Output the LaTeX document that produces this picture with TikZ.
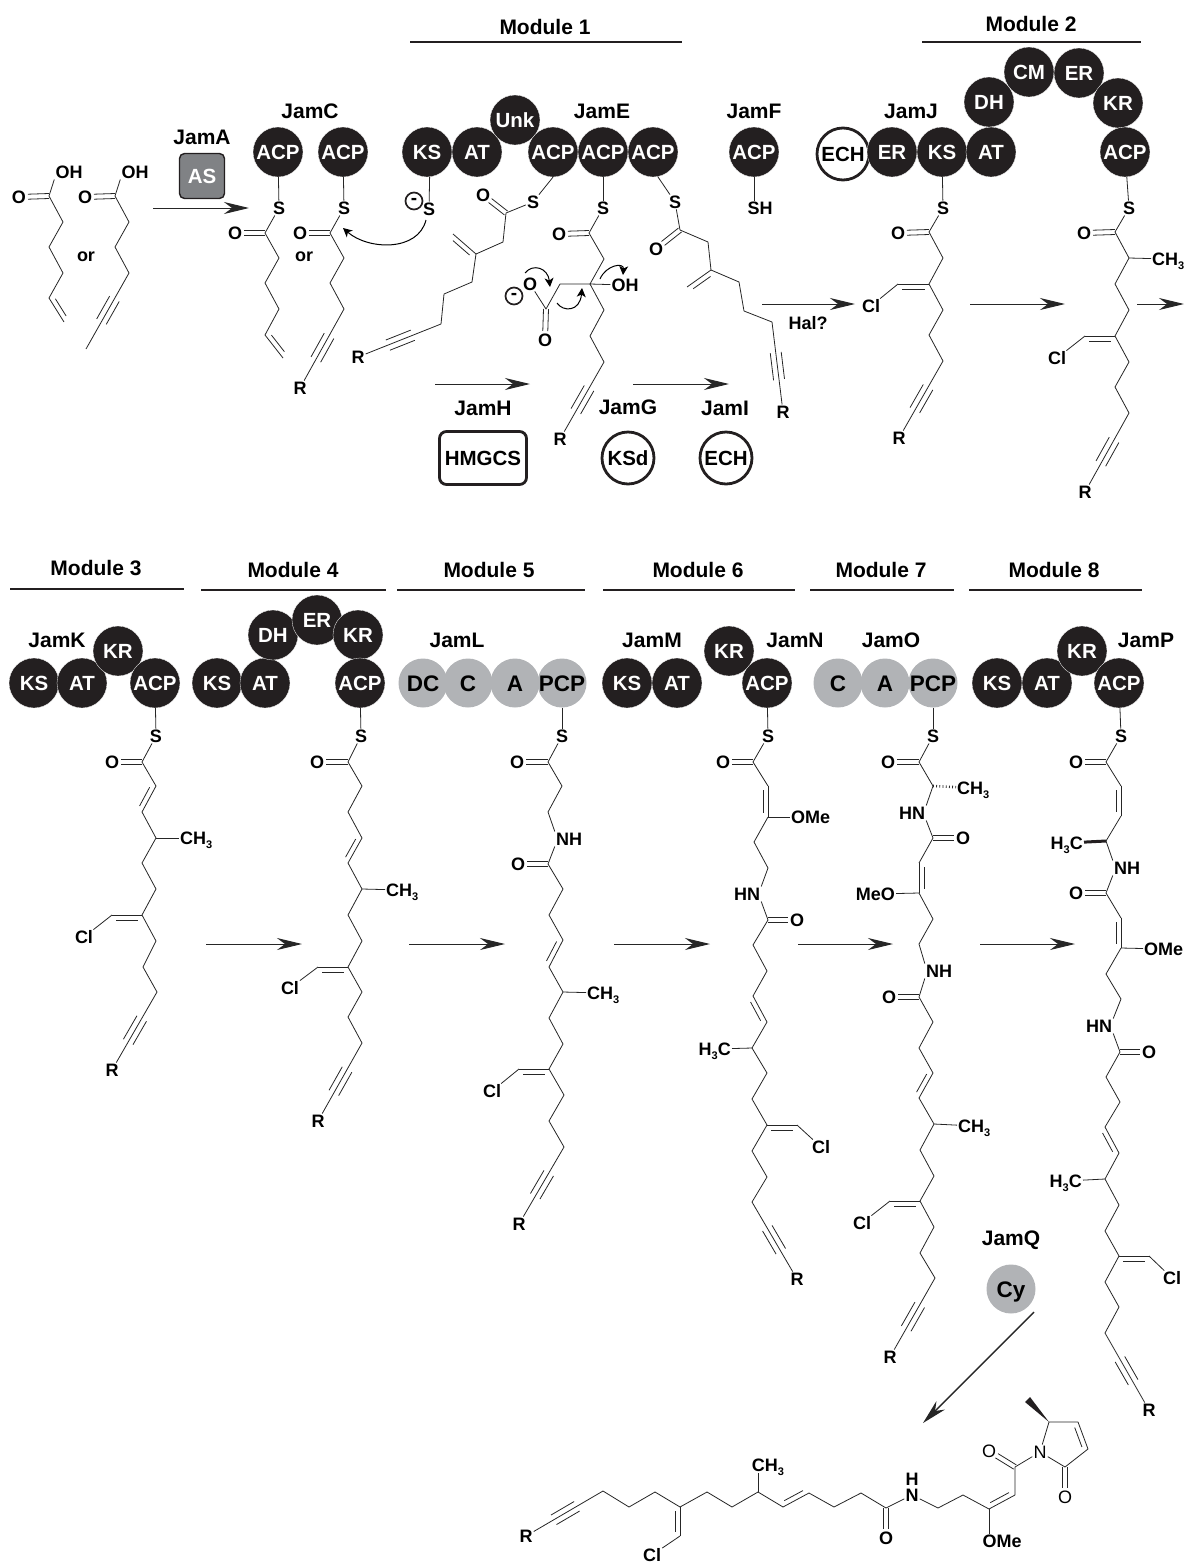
\documentclass[tikz,border=0pt]{standalone}
\usepackage{fontspec}
\setmainfont{Liberation Sans}
\usepackage{xcolor}
\usepackage{tikz}
\usetikzlibrary{arrows.meta,calc}
\definecolor{domdark}{HTML}{231F20}
\definecolor{domgray}{HTML}{B1B3B6}
\definecolor{domas}{HTML}{808285}
\newcommand{\atomfont}{\fontsize{18}{18}\selectfont\bfseries}
\newcommand{\three}{\raisebox{-4pt}{\fontsize{11}{11}\selectfont 3}}
\newcommand{\dbond}[3][5]{\draw[bond] #2 -- #3;
  \draw[bond] ($#2!.14!#3!#1pt!90:#3$) -- ($#3!.14!#2!#1pt!-90:#2$);}
\newcommand{\sdbond}[2]{\draw[bond,shorten >=9pt] ($#1!2.5pt!90:#2$) -- ($#2!2.5pt!-90:#1$);
  \draw[bond,shorten >=9pt] ($#1!2.5pt!-90:#2$) -- ($#2!2.5pt!90:#1$);}
\newcommand{\tbond}[2]{\draw[bond] #1 -- #2;
  \draw[bond] ($#1!.34!#2!5.5pt!90:#2$) -- ($#1!.64!#2!5.5pt!90:#2$);
  \draw[bond] ($#1!.34!#2!5.5pt!-90:#2$) -- ($#1!.64!#2!5.5pt!-90:#2$);}
\tikzset{
  bond/.style={line width=.8pt, draw=black!85, line join=round},
  atom/.style={font=\atomfont, inner sep=1pt, text height=12.5pt, text depth=0pt},
  thinatom/.style={atom, font=\fontsize{18}{18}\selectfont},
  lab/.style={font=\fontsize{21}{21}\selectfont\bfseries, inner sep=1pt},
  bar/.style={line width=1.8pt, draw=domdark},
  rxn/.style={-{Stealth[length=25pt,width=12pt,inset=8pt]}, line width=1pt, draw=black!85},
  curl/.style={-{Stealth[length=9pt,width=9pt,inset=2.5pt]}, line width=1pt},
  dom/.style={circle, inner sep=0pt, minimum size=50pt, text height=14.5pt, text depth=0pt,
              font=\fontsize{20.5}{20.5}\selectfont\bfseries},
  pks/.style={dom, fill=domdark, draw=white, line width=.3pt, text=white},
  nrps/.style={dom, fill=domgray, minimum size=49pt, text height=16pt,
               font=\fontsize{22.5}{22.5}\selectfont\bfseries},
  aux/.style={dom, draw=domdark, fill=white, line width=2.8pt, minimum size=52pt},
  charge/.style={circle, draw=domdark, line width=1.7pt, inner sep=0pt, minimum size=17pt,
                 font=\fontsize{19}{19}\selectfont\bfseries},
}
\begin{document}
\begin{tikzpicture}[x=1pt,y=-1pt]
  \useasboundingbox (0,0) rectangle (1184,1564);
  % module headers
  \node[lab] (m1) at (545,27) {Module 1};
  \node[lab] (m2) at (1031,24) {Module 2};
  \node[lab] (m3) at (96,568) {Module 3};
  \node[lab] (m4) at (293,570) {Module 4};
  \node[lab] (m5) at (489,570) {Module 5};
  \node[lab] (m6) at (698,570) {Module 6};
  \node[lab] (m7) at (881,570) {Module 7};
  \node[lab] (m8) at (1054,570) {Module 8};
  \draw[bar] (410,42) -- (682,42);
  \draw[bar] (922,42) -- (1141,42);
  \draw[bar] (10,589) -- (184,589);
  \draw[bar] (201,590) -- (386,590);
  \draw[bar] (397,590) -- (585,590);
  \draw[bar] (603,590) -- (795,590);
  \draw[bar] (810,590) -- (954,590);
  \draw[bar] (969,590) -- (1142,590);

  % enzyme names
  \node[lab] (jama) at (202,137) {JamA};
  \node[lab] (jamc) at (310,111) {JamC};
  \node[lab] (jame) at (602,111) {JamE};
  \node[lab] (jamf) at (754,111) {JamF};
  \node[lab] (jamj) at (911,111) {JamJ};
  \node[lab] (jamh) at (483,408) {JamH};
  \node[lab] (jamg) at (628,407) {JamG};
  \node[lab] (jami) at (725,408) {JamI};
  \node[lab] (jamk) at (57,640) {JamK};
  \node[lab] (jaml) at (457,640) {JamL};
  \node[lab] (jamm) at (652,640) {JamM};
  \node[lab] (jamn) at (795,640) {JamN};
  \node[lab] (jamo) at (891,640) {JamO};
  \node[lab] (jamp) at (1146,640) {JamP};
  \node[lab] (jamq) at (1011,1240) {JamQ};

  % domains
  \node[draw=domdark, line width=1.4pt, fill=domas, rounded corners=5pt, minimum size=45pt,
        inner sep=0pt, text=white, font=\fontsize{20.5}{20.5}\selectfont\bfseries] (as) at (202,176) {AS};
  \node[pks] (acpc1) at (278,152) {ACP};
  \node[pks] (acpc2) at (343,152) {ACP};
  \node[pks] (kse) at (427,152) {KS};
  \node[pks] (ate) at (477,152) {AT};
  \node[pks] (unk) at (515,120) {Unk};
  \node[pks] (acpe1) at (553,152) {ACP};
  \node[pks] (acpe2) at (603,152) {ACP};
  \node[pks] (acpe3) at (653,152) {ACP};
  \node[pks] (acpf) at (754,152) {ACP};
  \node[aux] (echj) at (843,154) {ECH};
  \node[pks] (erj) at (892,152) {ER};
  \node[pks] (ksj) at (942,152) {KS};
  \node[pks] (atj) at (991,152) {AT};
  \node[pks] (dhj) at (989,102) {DH};
  \node[pks] (cmj) at (1029,72) {CM};
  \node[pks] (erj2) at (1079,73) {ER};
  \node[pks] (krj) at (1118,103) {KR};
  \node[pks] (acpj) at (1125,152) {ACP};
  \node[draw=domdark, line width=2.8pt, rounded corners=7pt, minimum width=87pt, minimum height=53pt,
        inner sep=0pt, font=\fontsize{20.5}{20.5}\selectfont\bfseries] (hmgcs) at (483,458) {HMGCS};
  \node[aux] (ksd) at (628,458) {KSd};
  \node[aux] (echi) at (726,458) {ECH};
  \node[pks] (ksk) at (34,683) {KS};
  \node[pks] (atk) at (82,683) {AT};
  \node[pks] (krk) at (118,651) {KR};
  \node[pks] (acpk) at (155,683) {ACP};
  \node[pks] (ksk2) at (217,683) {KS};
  \node[pks] (atk2) at (265,683) {AT};
  \node[pks] (dhk2) at (273,635) {DH};
  \node[pks] (erk2) at (317,620) {ER};
  \node[pks] (krk2) at (358,635) {KR};
  \node[pks] (acpk2) at (360,683) {ACP};
  \node[nrps] (dcl) at (423,683) {DC};
  \node[nrps] (cl) at (468,683) {C};
  \node[nrps] (al) at (515,683) {A};
  \node[nrps] (pcpl) at (562,683) {PCP};
  \node[pks] (ksm) at (627,683) {KS};
  \node[pks] (atm) at (677,683) {AT};
  \node[pks] (krn) at (729,651) {KR};
  \node[pks] (acpn) at (767,683) {ACP};
  \node[nrps] (co) at (838,683) {C};
  \node[nrps] (ao) at (885,683) {A};
  \node[nrps] (pcpo) at (933,683) {PCP};
  \node[pks] (ksp) at (997,683) {KS};
  \node[pks] (atp) at (1047,683) {AT};
  \node[pks] (krp) at (1082,651) {KR};
  \node[pks] (acpp) at (1119,683) {ACP};
  \node[nrps] (cy) at (1011,1289) {Cy};

  % reaction arrows
  \coordinate (ra1) at (153,208); \coordinate (rb1) at (249,208);
  \coordinate (ra2) at (435,384); \coordinate (rb2) at (530,384);
  \coordinate (ra3) at (633,384); \coordinate (rb3) at (729,384);
  \coordinate (ra4) at (762,304); \coordinate (rb4) at (855,304);
  \coordinate (ra5) at (970,304); \coordinate (rb5) at (1065,304);
  \coordinate (ra6) at (1137,304); \coordinate (rb6) at (1184,304);
  \coordinate (ra7) at (206,944); \coordinate (rb7) at (302,944);
  \coordinate (ra8) at (409,944); \coordinate (rb8) at (505,944);
  \coordinate (ra9) at (614,944); \coordinate (rb9) at (710,944);
  \coordinate (ra10) at (798,944); \coordinate (rb10) at (893,944);
  \coordinate (ra11) at (980,944); \coordinate (rb11) at (1075,944);
  \coordinate (ra12) at (1034,1312); \coordinate (rb12) at (923,1423);
  \draw[rxn] (ra1) -- (rb1);
  \draw[rxn] (ra2) -- (rb2);
  \draw[rxn] (ra3) -- (rb3);
  \draw[rxn] (ra4) -- (rb4);
  \draw[rxn] (ra5) -- (rb5);
  \draw[rxn] (ra6) -- (rb6);
  \draw[rxn] (ra7) -- (rb7);
  \draw[rxn] (ra8) -- (rb8);
  \draw[rxn] (ra9) -- (rb9);
  \draw[rxn] (ra10) -- (rb10);
  \draw[rxn] (ra11) -- (rb11);
  \draw[rxn,line width=1.4pt] (ra12) -- (rb12);
  \node[atom] (hal) at (808,323) {Hal?};

  % starting acids
  \node[atom] (oa1) at (19,197) {O};
  \node[atom] (oha1) at (69,172) {OH};
  \node[atom] (oa2) at (85,197) {O};
  \node[atom] (oha2) at (135,172) {OH};
  \node[atom] (ora) at (86,255) {or};
  \sdbond{(49,196)}{(oa1)}
  \sdbond{(115,196)}{(oa2)}
  \draw[bond] (oha1.south west) -- (49,196) -- (63,222) -- (49,247) -- (63,273) -- (49,298);
  \dbond{(49,298)}{(64,322)}
  \draw[bond] (oha2.south west) -- (115,196) -- (129,222) -- (115,247) -- (129,273);
  \coordinate (cha2) at (86,349);
  \tbond{(129,273)}{(cha2)}

  % JamC
  \node[atom] (sc1) at (279,208) {S};
  \node[atom] (oc1) at (235,233) {O};
  \node[atom] (sc2) at (344,208) {S};
  \node[atom] (oc2) at (300,233) {O};
  \node[atom] (orc) at (304,255) {or};
  \node[atom] (rc2) at (300,388) {R};
  \draw[bond] (acpc1) -- (sc1);
  \draw[bond] (acpc2) -- (sc2);
  \sdbond{(265,233)}{(oc1)}
  \sdbond{(330,233)}{(oc2)}
  \draw[bond] (sc1) -- (265,233) -- (279,258) -- (265,283) -- (279,309) -- (265,335);
  \dbond{(265,335)}{(283,358)}
  \draw[bond] (sc2) -- (330,233) -- (344,258) -- (330,283) -- (344,309);
  \tbond{(344,309)}{(rc2)}

  % JamE
  \node[atom] (se0) at (429,209) {S};
  \node[charge] (neg1) at (414,201) {-};
  \coordinate (cura) at (426,220); \coordinate (curb) at (343,228);
  \draw[curl] (cura) .. controls (418,252) and (368,250) .. (curb);
  \draw[bond] (kse.-84) -- (se0);
  \node[atom] (se1) at (533,202) {S};
  \node[atom] (oe1) at (483,195) {O};
  \node[atom] (re1) at (358,357) {R};
  \draw[bond] (acpe1.-90) -- (se1);
  \sdbond{(506,213)}{(oe1)}
  \draw[bond] (se1) -- (506,213) -- (503,242) -- (476,254) -- (472,282) -- (444,294) -- (441,324);
  \dbond{(476,254)}{(453,234)}
  \tbond{(441,324)}{(re1)}
  \node[atom] (se2) at (603,208) {S};
  \node[atom] (oe2) at (559,234) {O};
  \node[atom] (ohe2) at (625,285) {OH};
  \node[atom] (oe3) at (530,284) {O};
  \node[charge] (neg2) at (514,296) {-};
  \node[atom] (oe4) at (545,340) {O};
  \node[atom] (re2) at (560,439) {R};
  \draw[bond] (acpe2) -- (se2);
  \sdbond{(589,233)}{(oe2)}
  \draw[bond] (se2) -- (589,233) -- (604,259) -- (590,284) -- (ohe2);
  \draw[bond] (oe3) -- (546,309) -- (560,284) -- (590,284) -- (604,310) -- (590,336) -- (604,362);
  \sdbond{(546,309)}{(oe4)}
  \tbond{(604,362)}{(re2)}
  \coordinate (cua) at (525,273); \coordinate (cub) at (550,287);
  \coordinate (cuc) at (557,303); \coordinate (cud) at (582,288);
  \coordinate (cue) at (600,279); \coordinate (cuf) at (623,275);
  \draw[curl] (cua) .. controls (533,263) and (548,268) .. (cub);
  \draw[curl] (cuc) .. controls (563,312) and (580,312) .. (cud);
  \draw[curl] (cue) .. controls (606,265) and (624,262) .. (cuf);
  \node[atom] (se3) at (675,202) {S};
  \node[atom] (oe5) at (656,249) {O};
  \node[atom] (re3) at (783,412) {R};
  \draw[bond] (acpe3.-79) -- (se3);
  \sdbond{(680,230)}{(oe5)}
  \draw[bond] (se3) -- (680,230) -- (708,242) -- (711,270) -- (739,282) -- (744,311) -- (772,322);
  \dbond{(711,270)}{(687,287)}
  \tbond{(772,322)}{(re3)}

  % JamF
  \node[atom] (shf) at (760,208) {SH};
  \draw[bond] (acpf.-90) -- (acpf.-90 |- shf.north);

  % JamJ
  \node[atom] (sj) at (943,208) {S};
  \node[atom] (oj) at (898,233) {O};
  \node[atom] (clj) at (871,306) {Cl};
  \node[atom] (rj) at (899,438) {R};
  \draw[bond] (ksj) -- (sj);
  \sdbond{(929,232)}{(oj)}
  \draw[bond] (sj) -- (929,232) -- (943,258) -- (929,284) -- (943,310) -- (929,335) -- (943,361);
  \dbond{(929,284)}{(898,284)}
  \draw[bond] (898,284) -- (clj);
  \tbond{(943,361)}{(rj)}
  \node[atom] (sj2) at (1129,208) {S};
  \node[atom] (oj2) at (1084,233) {O};
  \node[atom,anchor=west] (chj) at (1151,259) {CH\three};
  \node[atom] (clj2) at (1057,358) {Cl};
  \node[atom] (rj2) at (1085,492) {R};
  \draw[bond] (acpj) -- (sj2);
  \sdbond{(1115,232)}{(oj2)}
  \draw[bond] (sj2) -- (1115,232) -- (1129,258) -- (1115,284) -- (1129,310) -- (1115,336) -- (1129,362) -- (1115,387) -- (1129,413);
  \draw[bond] (1129,258) -- (chj);
  \dbond{(1115,336)}{(1085,336)}
  \draw[bond] (1085,336) -- (clj2);
  \tbond{(1129,413)}{(rj2)}

  % JamK
  \node[atom] (sk) at (156,736) {S};
  \node[atom] (ok) at (112,762) {O};
  \node[atom,anchor=west] (chk) at (179,838) {CH\three};
  \node[atom] (clk) at (84,937) {Cl};
  \node[atom] (rk) at (112,1070) {R};
  \draw[bond] (acpk) -- (sk);
  \sdbond{(142,762)}{(ok)}
  \draw[bond] (sk) -- (142,762) -- (156,786);
  \dbond[-5]{(156,786)}{(142,812)}
  \draw[bond] (142,812) -- (156,838) -- (142,863) -- (156,889) -- (142,915) -- (156,941) -- (143,967) -- (157,992);
  \draw[bond] (156,838) -- (chk);
  \dbond{(142,915)}{(112,915)}
  \draw[bond] (112,915) -- (clk);
  \tbond{(157,992)}{(rk)}

  % JamK, second module
  \node[atom] (sk2) at (361,736) {S};
  \node[atom] (ok2) at (317,762) {O};
  \node[atom,anchor=west] (chk2) at (385,890) {CH\three};
  \node[atom] (clk2) at (290,988) {Cl};
  \node[atom] (rk2) at (318,1121) {R};
  \draw[bond] (acpk2) -- (sk2);
  \sdbond{(348,762)}{(ok2)}
  \draw[bond] (sk2) -- (348,762) -- (362,786) -- (348,812) -- (362,838);
  \dbond[-5]{(362,838)}{(348,863)}
  \draw[bond] (348,863) -- (362,889) -- (348,915) -- (362,941) -- (348,967) -- (362,992) -- (348,1017) -- (362,1043);
  \draw[bond] (362,889) -- (chk2);
  \dbond{(348,967)}{(318,967)}
  \draw[bond] (318,967) -- (clk2);
  \tbond{(362,1043)}{(rk2)}

  % JamL
  \node[atom] (sl) at (562,736) {S};
  \node[atom] (ol) at (517,762) {O};
  \node[atom] (nhl) at (569,839) {NH};
  \node[atom] (ol2) at (518,864) {O};
  \node[atom,anchor=west] (chl) at (586,993) {CH\three};
  \node[atom] (cll) at (492,1091) {Cl};
  \node[atom] (rl) at (519,1224) {R};
  \draw[bond] (pcpl) -- (sl);
  \sdbond{(548,762)}{(ol)}
  \draw[bond] (sl) -- (548,762) -- (562,786) -- (548,812) -- (nhl.north west);
  \sdbond{(548,864)}{(ol2)}
  \draw[bond] (nhl.south west) -- (548,864) -- (563,889) -- (549,915) -- (563,940);
  \dbond[-5]{(563,940)}{(549,967)}
  \draw[bond] (549,967) -- (563,992) -- (549,1018) -- (563,1044) -- (549,1069) -- (564,1095) -- (549,1121) -- (564,1147);
  \draw[bond] (563,992) -- (chl);
  \dbond{(549,1069)}{(519,1069)}
  \draw[bond] (519,1069) -- (cll);
  \tbond{(564,1147)}{(rl)}

  % JamN
  \node[atom] (sn) at (768,736) {S};
  \node[atom] (on) at (723,762) {O};
  \node[atom,anchor=west] (omen) at (790,817) {OMe};
  \node[atom] (hnn) at (747,894) {HN};
  \node[atom] (on2) at (797,920) {O};
  \node[atom,anchor=east] (chn) at (732,1049) {H\three C};
  \node[atom] (cln) at (821,1147) {Cl};
  \node[atom] (rn) at (797,1279) {R};
  \draw[bond] (acpn) -- (sn);
  \sdbond{(753,762)}{(on)}
  \draw[bond] (sn) -- (753,762) -- (768,786);
  \dbond[-5]{(768,786)}{(768,817)}
  \draw[bond] (768,817) -- (omen);
  \draw[bond] (768,817) -- (754,842) -- (768,868) -- (hnn.north east);
  \sdbond{(768,920)}{(on2)}
  \draw[bond] (hnn.south east) -- (768,920) -- (753,945) -- (767,971) -- (753,996);
  \dbond[-5]{(753,996)}{(767,1022)}
  \draw[bond] (767,1022) -- (752,1048) -- (767,1073) -- (752,1099) -- (767,1125) -- (752,1151) -- (767,1177) -- (752,1202);
  \draw[bond] (752,1048) -- (chn);
  \dbond[-5]{(767,1125)}{(797,1125)}
  \draw[bond] (797,1125) -- (cln);
  \tbond{(752,1202)}{(rn)}

  % JamO
  \node[atom] (so) at (933,736) {S};
  \node[atom] (oo) at (888,762) {O};
  \node[atom,anchor=west] (cho) at (956,788) {CH\three};
  \node[atom] (hno) at (912,813) {HN};
  \node[atom] (oo2) at (963,838) {O};
  \node[atom,anchor=east] (meo) at (896,894) {MeO};
  \node[atom] (nho) at (939,971) {NH};
  \node[atom] (oo3) at (889,997) {O};
  \node[atom,anchor=west] (cho2) at (957,1126) {CH\three};
  \node[atom] (clo) at (862,1223) {Cl};
  \node[atom] (ro) at (890,1357) {R};
  \draw[bond] (pcpo) -- (so);
  \sdbond{(919,762)}{(oo)}
  \draw[bond] (so) -- (919,762) -- (933,786) -- (hno.north east);
  \draw[bond, line width=2.6pt, dash pattern=on .8pt off 2.4pt] (933,786) -- (cho);
  \sdbond{(933,838)}{(oo2)}
  \draw[bond] (hno.south east) -- (933,838) -- (919,863);
  \dbond{(919,863)}{(919,893)}
  \draw[bond] (919,893) -- (meo);
  \draw[bond] (919,893) -- (933,919) -- (919,944) -- (nho.north west);
  \sdbond{(919,997)}{(oo3)}
  \draw[bond] (nho.south west) -- (919,997) -- (933,1022) -- (919,1048) -- (933,1073);
  \dbond[-5]{(933,1073)}{(919,1098)}
  \draw[bond] (919,1098) -- (934,1124) -- (920,1150) -- (934,1176) -- (920,1201) -- (934,1227) -- (920,1253) -- (935,1278);
  \draw[bond] (934,1124) -- (cho2);
  \dbond{(920,1201)}{(890,1201)}
  \draw[bond] (890,1201) -- (clo);
  \tbond{(935,1278)}{(ro)}

  % JamP
  \node[atom] (sp) at (1121,736) {S};
  \node[atom] (op) at (1076,762) {O};
  \node[atom,anchor=east] (chp) at (1084,843) {H\three C};
  \node[atom] (nhp) at (1127,868) {NH};
  \node[atom] (op2) at (1076,893) {O};
  \node[atom,anchor=west] (omep) at (1143,949) {OMe};
  \node[atom] (hnp) at (1099,1026) {HN};
  \node[atom] (op3) at (1149,1052) {O};
  \node[atom,anchor=east] (chp2) at (1083,1181) {H\three C};
  \node[atom] (clp) at (1172,1278) {Cl};
  \node[atom] (rp) at (1149,1410) {R};
  \draw[bond] (acpp) -- (sp);
  \sdbond{(1106,762)}{(op)}
  \draw[bond] (sp) -- (1106,762) -- (1121,786);
  \dbond[-5]{(1121,786)}{(1121,816)}
  \draw[bond] (1121,816) -- (1106,841) -- (nhp.north west);
  \draw[line width=3pt, draw=domdark] (1106,841) -- (chp);
  \sdbond{(1106,893)}{(op2)}
  \draw[bond] (nhp.south west) -- (1106,893) -- (1121,918);
  \dbond[-5]{(1121,918)}{(1121,948)}
  \draw[bond] (1121,948) -- (omep);
  \draw[bond] (1121,948) -- (1106,974) -- (1121,999) -- (hnp.north east);
  \sdbond{(1120,1052)}{(op3)}
  \draw[bond] (hnp.south east) -- (1120,1052) -- (1106,1077) -- (1120,1102) -- (1105,1127);
  \dbond[-5]{(1105,1127)}{(1119,1153)}
  \draw[bond] (1119,1153) -- (1105,1179) -- (1119,1205) -- (1105,1231) -- (1119,1256) -- (1105,1282) -- (1119,1307) -- (1105,1333);
  \draw[bond] (1105,1179) -- (chp2);
  \dbond[-5]{(1119,1256)}{(1149,1256)}
  \draw[bond] (1149,1256) -- (clp);
  \tbond{(1105,1333)}{(rp)}

  % product
  \node[atom] (rq) at (526,1536) {R};
  \node[atom] (clq) at (652,1555) {Cl};
  \node[atom] (chq) at (768,1465) {CH\three};
  \node[atom] (oq1) at (886,1538) {O};
  \node[atom] (nq1) at (912,1495) {N};
  \node[atom] (hq1) at (912,1479) {H};
  \node[atom] (omeq) at (1002,1541) {OMe};
  \node[thinatom] (oq2) at (989,1451) {O};
  \node[thinatom] (nq2) at (1040,1452) {N};
  \node[thinatom] (oq3) at (1065,1497) {O};
  \tbond{(603,1491)}{(rq)}
  \draw[bond] (603,1491) -- (629,1507) -- (655,1492) -- (680,1507) -- (707,1492) -- (732,1507) -- (758,1492) -- (783,1507);
  \dbond[-5]{(680,1507)}{(680,1536)}
  \draw[bond] (680,1536) -- (clq);
  \draw[bond] (758,1492) -- (758,1473);
  \dbond{(783,1507)}{(809,1493)}
  \draw[bond] (809,1493) -- (834,1507) -- (861,1493) -- (886,1508) -- (nq1);
  \sdbond{(886,1508)}{(oq1)}
  \draw[bond] (nq1) -- (938,1508) -- (963,1495) -- (989,1509);
  \dbond{(989,1509)}{(1015,1495)}
  \draw[bond] (989,1509) -- (omeq.north -| 989,1509);
  \draw[bond] (1015,1495) -- (1015,1467) -- (nq2);
  \sdbond{(1015,1467)}{(oq2)}
  \draw[bond] (nq2) -- (1049,1422) -- (1078,1422);
  \dbond[-5]{(1078,1422)}{(1088,1449)}
  \draw[bond] (1088,1449) -- (1065,1467) -- (nq2);
  \sdbond{(1065,1467)}{(oq3)}
  \fill[domdark] (1049,1422) -- (1025,1402) -- (1030,1397) -- cycle;
\end{tikzpicture}
\end{document}
